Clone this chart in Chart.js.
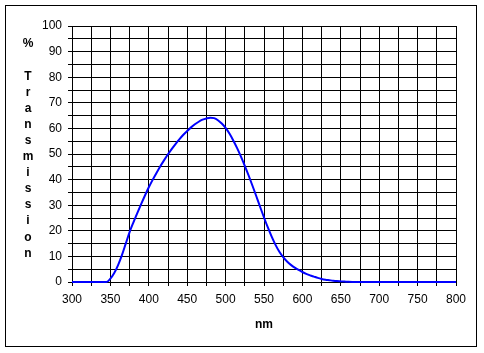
<!DOCTYPE html>
<html>
<head>
<meta charset="utf-8">
<script src="https://cdn.jsdelivr.net/npm/chart.js@4.4.1/dist/chart.umd.min.js"></script>
<style>
  html, body { margin: 0; padding: 0; background: #fff; }
  canvas { display: block; }
</style>
</head>
<body>
<canvas id="transmissionChart" width="484" height="353"></canvas>
<script>
const wavelengths = [300, 345, 350, 355, 360, 365, 370, 375, 380, 385, 390, 395, 400, 405, 410, 415, 420, 425, 430, 435, 440, 445, 450, 455, 460, 465, 470, 475, 480, 485, 490, 495, 500, 505, 510, 515, 520, 525, 530, 535, 540, 545, 550, 555, 560, 565, 570, 575, 580, 585, 590, 595, 600, 605, 610, 615, 620, 625, 630, 635, 640, 645, 650, 655, 660, 665, 800];
const transmission = [0, 0, 1.3, 3.5, 6.6, 10.5, 15, 19.5, 23.3, 26.9, 30.4, 33.8, 37.0, 39.9, 42.6, 45.2, 47.6, 49.9, 52.0, 54.0, 55.8, 57.5, 59.0, 60.4, 61.6, 62.6, 63.4, 63.9, 64.2, 64.0, 63.2, 61.9, 60.2, 58.0, 55.3, 52.3, 49.0, 45.4, 41.6, 37.6, 33.5, 29.3, 25.2, 21.3, 17.7, 14.5, 11.8, 9.7, 8.0, 6.7, 5.6, 4.7, 3.9, 3.2, 2.6, 2.1, 1.6, 1.2, 0.9, 0.7, 0.5, 0.35, 0.25, 0.15, 0.05, 0, 0];
const yTitleLetters = ['%', '', 'T', 'r', 'a', 'n', 's', 'm', 'i', 's', 's', 'i', 'o', 'n'];
const xTitle = 'nm';

const tickFont = { family: 'Arial, "Liberation Sans", sans-serif', size: 12 };

// frame, white background and the axis titles
const decorations = {
  id: 'decorations',
  beforeDraw(chart) {
    const ctx = chart.ctx;
    ctx.save();
    ctx.fillStyle = '#fff';
    ctx.fillRect(0, 0, chart.width, chart.height);
    ctx.strokeStyle = '#000';
    ctx.lineWidth = 1;
    ctx.strokeRect(5.5, 5.5, 471, 341);
    ctx.restore();
  },
  afterDraw(chart) {
    const ctx = chart.ctx;
    const area = chart.chartArea;
    ctx.save();
    ctx.fillStyle = '#000';
    ctx.font = 'bold 12px Arial, "Liberation Sans", sans-serif';
    ctx.textAlign = 'center';
    ctx.textBaseline = 'middle';
    yTitleLetters.forEach((ch, i) => {
      if (ch) ctx.fillText(ch, 28, 44 + i * 16.1);
    });
    ctx.fillText(xTitle, (area.left + area.right) / 2, 325);
    ctx.restore();
  }
};

const data = {
  datasets: [{
    label: '% Transmission',
    data: wavelengths.map((w, i) => ({ x: w, y: transmission[i] })),
    borderColor: '#0000ff',
    borderWidth: 2,
    pointRadius: 0,
    cubicInterpolationMode: 'monotone',
    fill: false,
    clip: 4
  }]
};

new Chart(document.getElementById('transmissionChart').getContext('2d'), {
  type: 'line',
  data,
  options: {
    responsive: false,
    devicePixelRatio: 1,
    animation: false,
    layout: { padding: { left: 0, right: 28, top: 26, bottom: 0 } },
    plugins: {
      legend: { display: false },
      tooltip: { enabled: false }
    },
    scales: {
      x: {
        type: 'linear',
        min: 300,
        max: 800,
        afterFit(scale) { scale.height = 71; },
        ticks: {
          stepSize: 25,
          autoSkip: false,
          maxRotation: 0,
          padding: 6,
          color: '#000',
          font: tickFont,
          callback: v => (v % 50 === 0 ? String(v) : '')
        },
        grid: { color: '#000', lineWidth: 1, tickLength: 4, drawTicks: true },
        border: { color: '#000', width: 1 }
      },
      y: {
        min: 0,
        max: 100,
        afterFit(scale) { scale.width = 72; },
        ticks: {
          stepSize: 5,
          autoSkip: false,
          padding: 6,
          color: '#000',
          font: tickFont,
          callback: v => (v % 10 === 0 ? String(v) : '')
        },
        grid: { color: '#000', lineWidth: 1, tickLength: 4, drawTicks: true },
        border: { color: '#000', width: 1 }
      }
    }
  },
  plugins: [decorations]
});
</script>
</body>
</html>
